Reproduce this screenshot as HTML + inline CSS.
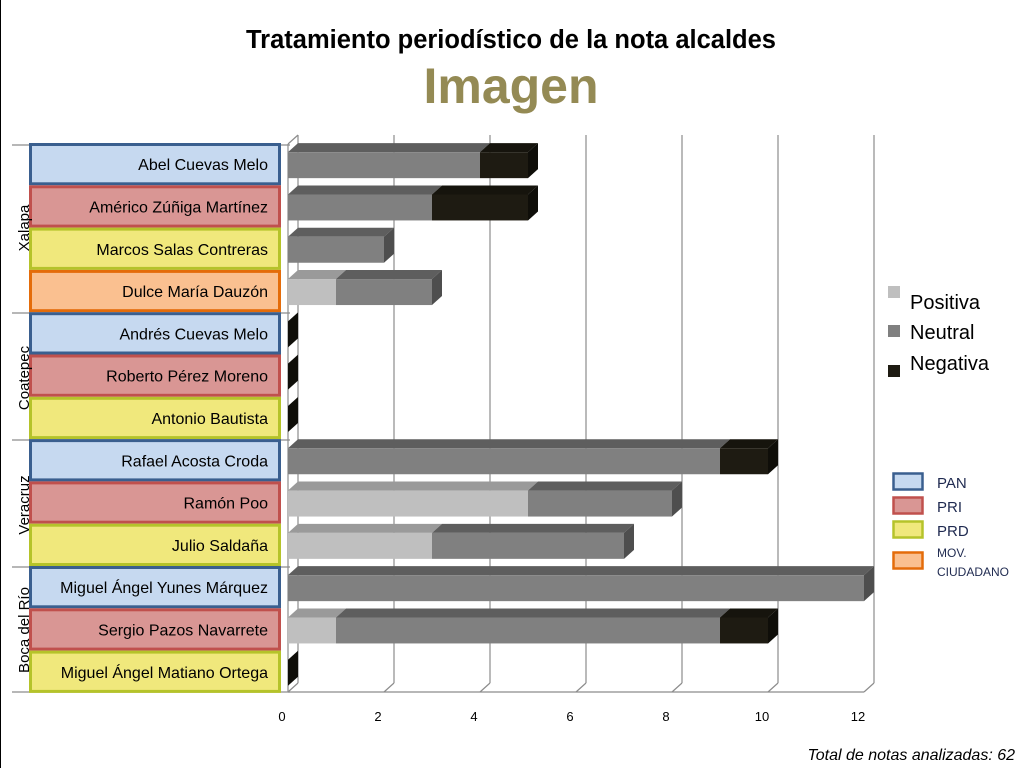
<!DOCTYPE html>
<html><head><meta charset="utf-8"><style>
html,body{margin:0;padding:0;background:#fff;}
body{width:1023px;height:768px;overflow:hidden;font-family:"Liberation Sans",sans-serif;}
</style></head><body>
<svg id="s" width="1023" height="768" xmlns="http://www.w3.org/2000/svg" font-family="Liberation Sans, sans-serif">
<rect width="1023" height="768" fill="#fff"/>
<line x1="0.5" y1="0" x2="0.5" y2="768" stroke="#000"/>
<text x="511" y="48" text-anchor="middle" font-size="25.5" font-weight="bold" fill="#000">Tratamiento periodístico de la nota alcaldes</text>
<text x="511" y="103" text-anchor="middle" font-size="50" font-weight="bold" fill="#948a54">Imagen</text>
<g id="grid" stroke="#8c8c8c" stroke-width="1.2" fill="none"></g>
<g id="bars"></g>
<g id="labels"></g>
<g font-size="13" fill="#000" text-anchor="middle">
<text x="282" y="721">0</text><text x="378" y="721">2</text><text x="474" y="721">4</text><text x="570" y="721">6</text><text x="666" y="721">8</text><text x="762" y="721">10</text><text x="858" y="721">12</text>
</g>
<g font-size="15" fill="#000" text-anchor="middle">
<text transform="translate(29,228) rotate(-90)">Xalapa</text>
<text transform="translate(29,378) rotate(-90)">Coatepec</text>
<text transform="translate(29,505) rotate(-90)">Veracruz</text>
<text transform="translate(29,630) rotate(-90)">Boca del Río</text>
</g>
<rect x="888" y="286" width="12" height="12" fill="#bfbfbf"/>
<rect x="888" y="325" width="12" height="12" fill="#808080"/>
<rect x="888" y="365" width="12" height="12" fill="#1e1b12"/>
<g font-size="20" fill="#000"><text x="910" y="309">Positiva</text><text x="910" y="339">Neutral</text><text x="910" y="370">Negativa</text></g>
<rect x="893.5" y="473.5" width="29" height="16" fill="#c6d9f0" stroke="#3a5f8f" stroke-width="2.5"/>
<rect x="893.5" y="497.5" width="29" height="16" fill="#d99694" stroke="#c0504d" stroke-width="2.5"/>
<rect x="893.5" y="521.5" width="29" height="16" fill="#f0e87c" stroke="#b5c32a" stroke-width="2.5"/>
<rect x="893.5" y="552.5" width="29" height="16" fill="#fac090" stroke="#e46c0a" stroke-width="2.5"/>
<g font-size="15" fill="#1f2a50"><text x="937" y="488">PAN</text><text x="937" y="512">PRI</text><text x="937" y="536">PRD</text></g>
<g font-size="12" fill="#1f2a50"><text x="937" y="557">MOV.</text><text x="937" y="576">CIUDADANO</text></g>
<text x="1015" y="760" text-anchor="end" font-size="16" font-style="italic" fill="#000">Total de notas analizadas: 62</text>
</svg>
<script>
var ns="http://www.w3.org/2000/svg";
function el(p,t,a,txt){var e=document.createElementNS(ns,t);for(var k in a)e.setAttribute(k,a[k]);if(txt!==undefined)e.textContent=txt;document.getElementById(p).appendChild(e);return e;}
var X0=288,S=48,DX=10,DY=-9,TOP=143,RH=42.3,BOT=692;
for(var i=0;i<=6;i++){var x=X0+DX+i*96;el("grid","line",{x1:x,y1:135,x2:x,y2:BOT+DY});el("grid","line",{x1:x,y1:BOT+DY,x2:x-DX,y2:BOT});}
el("grid","line",{x1:X0,y1:144,x2:X0,y2:BOT});
el("grid","line",{x1:X0,y1:BOT,x2:X0+576,y2:BOT});
el("grid","line",{x1:X0,y1:144,x2:X0+DX,y2:135});
[145,313,440,567,692].forEach(function(y){el("grid","line",{x1:12,y1:y,x2:290,y2:y});});
var rows=[["Abel Cuevas Melo",0,0,4,1],["Américo Zúñiga Martínez",1,0,3,2],["Marcos Salas Contreras",2,0,2,0],["Dulce María Dauzón",3,1,2,0],
["Andrés Cuevas Melo",0,0,0,0],["Roberto Pérez Moreno",1,0,0,0],["Antonio Bautista",2,0,0,0],
["Rafael Acosta Croda",0,0,9,1],["Ramón Poo",1,5,3,0],["Julio Saldaña",2,3,4,0],
["Miguel Ángel Yunes Márquez",0,0,12,0],["Sergio Pazos Navarrete",1,1,8,1],["Miguel Ángel Matiano Ortega",2,0,0,0]];
var fills=["#c6d9f0","#d99694","#f0e87c","#fac090"],strokes=["#3a5f8f","#c0504d","#b5c32a","#e46c0a"];
var cf=["#bfbfbf","#808080","#1e1b12"],ct=["#9a9a9a","#5e5e5e","#16140d"],cs=["#8a8a8a","#4e4e4e","#0f0e09"];
rows.forEach(function(r,i){
 var y=TOP+i*RH,c=y+RH/2;
 el("labels","rect",{x:30.5,y:y+1.5,width:249,height:RH-3,fill:fills[r[1]],stroke:strokes[r[1]],"stroke-width":3});
 el("labels","text",{x:268,y:c+6,"text-anchor":"end","font-size":16,fill:"#000"},r[0]);
 var fy=c-12,h=26,x=X0,last=null,vals=[r[2],r[3],r[4]];
 for(var k=0;k<3;k++){if(vals[k]>0){var w=vals[k]*S;
  el("bars","polygon",{points:[x,fy,x+DX,fy+DY,x+w+DX,fy+DY,x+w,fy].join(" "),fill:ct[k]});
  el("bars","rect",{x:x,y:fy,width:w,height:h,fill:cf[k]});
  x+=w;last=k;}}
 if(last===null)last=2;
 el("bars","polygon",{points:[x,fy,x+DX,fy+DY,x+DX,fy+h+DY,x,fy+h].join(" "),fill:cs[last]});
});
</script>
</body></html>
